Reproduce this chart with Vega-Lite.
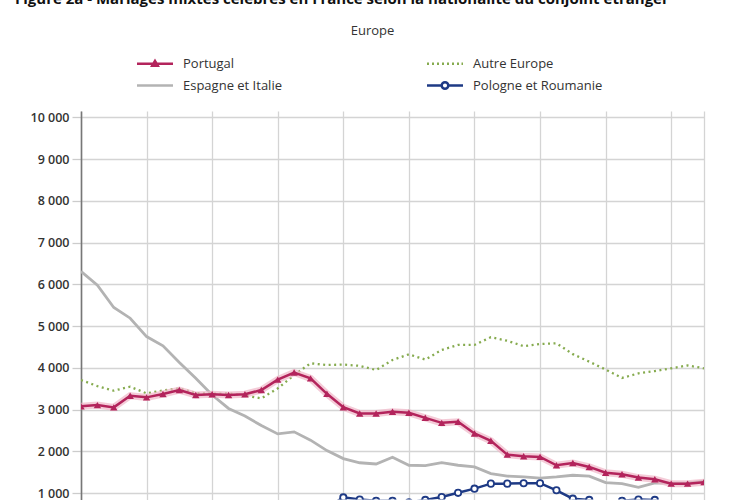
{
  "$schema": "https://vega.github.io/schema/vega-lite/v6.json",
  "width": 623,
  "height": 388.5,
  "autosize": {"type": "none"},
  "padding": {"left": 81, "top": 111, "right": 46, "bottom": 0},
  "background": "white",
  "config": {"view": {"stroke": null}, "font": "Open Sans"},
  "title": {
    "text": "Figure 2a - Mariages mixtes célébrés en France selon la nationalité du conjoint étranger",
    "anchor": "start",
    "frame": "group",
    "dx": -66,
    "offset": 18,
    "fontSize": 15,
    "fontWeight": "bold",
    "color": "#111111",
    "font": "Open Sans"
  },
  "data": {
    "values": [
      {"year": 1975, "Portugal": 3080, "Autre Europe": 3710, "Espagne et Italie": 6310, "Pologne et Roumanie": 450},
      {"year": 1976, "Portugal": 3110, "Autre Europe": 3565, "Espagne et Italie": 5980, "Pologne et Roumanie": 440},
      {"year": 1977, "Portugal": 3055, "Autre Europe": 3455, "Espagne et Italie": 5445, "Pologne et Roumanie": 430},
      {"year": 1978, "Portugal": 3335, "Autre Europe": 3550, "Espagne et Italie": 5190, "Pologne et Roumanie": 420},
      {"year": 1979, "Portugal": 3295, "Autre Europe": 3390, "Espagne et Italie": 4750, "Pologne et Roumanie": 420},
      {"year": 1980, "Portugal": 3375, "Autre Europe": 3460, "Espagne et Italie": 4530, "Pologne et Roumanie": 430},
      {"year": 1981, "Portugal": 3470, "Autre Europe": 3510, "Espagne et Italie": 4130, "Pologne et Roumanie": 440},
      {"year": 1982, "Portugal": 3350, "Autre Europe": 3400, "Espagne et Italie": 3750, "Pologne et Roumanie": 450},
      {"year": 1983, "Portugal": 3370, "Autre Europe": 3380, "Espagne et Italie": 3350, "Pologne et Roumanie": 460},
      {"year": 1984, "Portugal": 3350, "Autre Europe": 3390, "Espagne et Italie": 3030, "Pologne et Roumanie": 470},
      {"year": 1985, "Portugal": 3370, "Autre Europe": 3340, "Espagne et Italie": 2850, "Pologne et Roumanie": 490},
      {"year": 1986, "Portugal": 3470, "Autre Europe": 3270, "Espagne et Italie": 2620, "Pologne et Roumanie": 510},
      {"year": 1987, "Portugal": 3720, "Autre Europe": 3510, "Espagne et Italie": 2420, "Pologne et Roumanie": 530},
      {"year": 1988, "Portugal": 3890, "Autre Europe": 3830, "Espagne et Italie": 2470, "Pologne et Roumanie": 560},
      {"year": 1989, "Portugal": 3750, "Autre Europe": 4110, "Espagne et Italie": 2270, "Pologne et Roumanie": 600},
      {"year": 1990, "Portugal": 3380, "Autre Europe": 4070, "Espagne et Italie": 2020, "Pologne et Roumanie": 650},
      {"year": 1991, "Portugal": 3060, "Autre Europe": 4080, "Espagne et Italie": 1830, "Pologne et Roumanie": 900},
      {"year": 1992, "Portugal": 2910, "Autre Europe": 4050, "Espagne et Italie": 1730, "Pologne et Roumanie": 850},
      {"year": 1993, "Portugal": 2910, "Autre Europe": 3950, "Espagne et Italie": 1700, "Pologne et Roumanie": 820},
      {"year": 1994, "Portugal": 2950, "Autre Europe": 4190, "Espagne et Italie": 1860, "Pologne et Roumanie": 820},
      {"year": 1995, "Portugal": 2925, "Autre Europe": 4325, "Espagne et Italie": 1670, "Pologne et Roumanie": 780},
      {"year": 1996, "Portugal": 2805, "Autre Europe": 4200, "Espagne et Italie": 1660, "Pologne et Roumanie": 840},
      {"year": 1997, "Portugal": 2685, "Autre Europe": 4430, "Espagne et Italie": 1730, "Pologne et Roumanie": 910},
      {"year": 1998, "Portugal": 2710, "Autre Europe": 4550, "Espagne et Italie": 1670, "Pologne et Roumanie": 1010},
      {"year": 1999, "Portugal": 2430, "Autre Europe": 4550, "Espagne et Italie": 1630, "Pologne et Roumanie": 1110},
      {"year": 2000, "Portugal": 2255, "Autre Europe": 4735, "Espagne et Italie": 1470, "Pologne et Roumanie": 1230},
      {"year": 2001, "Portugal": 1925, "Autre Europe": 4650, "Espagne et Italie": 1410, "Pologne et Roumanie": 1230},
      {"year": 2002, "Portugal": 1885, "Autre Europe": 4520, "Espagne et Italie": 1390, "Pologne et Roumanie": 1240},
      {"year": 2003, "Portugal": 1870, "Autre Europe": 4570, "Espagne et Italie": 1360, "Pologne et Roumanie": 1240},
      {"year": 2004, "Portugal": 1670, "Autre Europe": 4590, "Espagne et Italie": 1390, "Pologne et Roumanie": 1070},
      {"year": 2005, "Portugal": 1725, "Autre Europe": 4330, "Espagne et Italie": 1430, "Pologne et Roumanie": 870},
      {"year": 2006, "Portugal": 1630, "Autre Europe": 4150, "Espagne et Italie": 1410, "Pologne et Roumanie": 840},
      {"year": 2007, "Portugal": 1490, "Autre Europe": 3960, "Espagne et Italie": 1255, "Pologne et Roumanie": 720},
      {"year": 2008, "Portugal": 1455, "Autre Europe": 3760, "Espagne et Italie": 1230, "Pologne et Roumanie": 820},
      {"year": 2009, "Portugal": 1375, "Autre Europe": 3870, "Espagne et Italie": 1140, "Pologne et Roumanie": 850},
      {"year": 2010, "Portugal": 1335, "Autre Europe": 3925, "Espagne et Italie": 1250, "Pologne et Roumanie": 840},
      {"year": 2011, "Portugal": 1230, "Autre Europe": 3990, "Espagne et Italie": 1240, "Pologne et Roumanie": 700},
      {"year": 2012, "Portugal": 1230, "Autre Europe": 4060, "Espagne et Italie": 1250, "Pologne et Roumanie": 700},
      {"year": 2013, "Portugal": 1265, "Autre Europe": 3990, "Espagne et Italie": 1290, "Pologne et Roumanie": 700}
    ]
  },
  "transform": [
    {"fold": ["Portugal", "Autre Europe", "Espagne et Italie", "Pologne et Roumanie"], "as": ["series", "value"]}
  ],
  "encoding": {
    "x": {
      "field": "year",
      "type": "quantitative",
      "scale": {"domain": [1975, 2013], "nice": false, "zero": false},
      "axis": {
        "values": [1975, 1979, 1983, 1987, 1991, 1995, 1999, 2003, 2007, 2011, 2013],
        "labels": false,
        "ticks": false,
        "domain": false,
        "title": null,
        "grid": true,
        "gridColor": "#d4d4d4",
        "gridWidth": 1.3
      }
    },
    "y": {
      "field": "value",
      "type": "quantitative",
      "scale": {"domain": [850, 10150], "nice": false, "zero": false},
      "axis": {
        "values": [1000, 2000, 3000, 4000, 5000, 6000, 7000, 8000, 9000, 10000],
        "labelExpr": "replace(format(datum.value, ','), ',', ' ')",
        "title": null,
        "grid": true,
        "gridColor": "#d4d4d4",
        "gridWidth": 1.3,
        "domainColor": "#777777",
        "domainWidth": 1.6,
        "tickColor": "#cccccc",
        "tickSize": 9,
        "tickWidth": 1.3,
        "labelFontSize": 12.5,
        "labelFontWeight": 600,
        "labelColor": "#333333",
        "labelPadding": 3,
        "labelFont": "Open Sans"
      }
    }
  },
  "layer": [
    {
      "transform": [{"filter": "datum.series === 'Espagne et Italie'"}],
      "mark": {"type": "line", "strokeWidth": 2.8, "color": "#b3b3b3", "clip": true}
    },
    {
      "transform": [{"filter": "datum.series === 'Autre Europe'"}],
      "mark": {"type": "line", "strokeWidth": 2.3, "strokeDash": [2, 3.5], "color": "#86ab4f", "clip": true}
    },
    {
      "transform": [{"filter": "datum.series === 'Pologne et Roumanie'"}],
      "mark": {"type": "line", "strokeWidth": 2.5, "color": "#1e3a85", "clip": true}
    },
    {
      "transform": [{"filter": "datum.series === 'Pologne et Roumanie'"}],
      "mark": {"type": "point", "shape": "circle", "filled": true, "fill": "white", "stroke": "#1e3a85", "strokeWidth": 1.8, "size": 40, "opacity": 1, "clip": true}
    },
    {
      "transform": [{"filter": "datum.series === 'Portugal'"}],
      "mark": {"type": "line", "strokeWidth": 7, "color": "#efb6c8", "opacity": 0.7, "clip": true}
    },
    {
      "transform": [{"filter": "datum.series === 'Portugal'"}],
      "mark": {"type": "line", "strokeWidth": 2.5, "color": "#b3245c", "clip": true}
    },
    {
      "transform": [{"filter": "datum.series === 'Portugal'"}],
      "mark": {"type": "point", "shape": "triangle-up", "filled": true, "color": "#b3245c", "size": 55, "opacity": 1, "clip": true}
    },
    {
      "transform": [{"filter": "datum.year === 1975"}],
      "mark": {"type": "point", "filled": false, "opacity": 0},
      "encoding": {
        "color": {
          "field": "series",
          "type": "nominal",
          "scale": {
            "domain": ["Portugal", "Espagne et Italie", "Autre Europe", "Pologne et Roumanie"],
            "range": ["#b3245c", "#b3b3b3", "#86ab4f", "#1e3a85"]
          },
          "legend": {
            "orient": "none",
            "legendX": 62.5,
            "legendY": -86,
            "columns": 2,
            "title": "Europe",
            "titleAnchor": "middle",
            "titleFontSize": 13,
            "titleFontWeight": "normal",
            "titleColor": "#333333",
            "titleFont": "Open Sans",
            "titlePadding": 14,
            "labelFontSize": 13,
            "labelColor": "#333333",
            "labelFont": "Open Sans",
            "labelOffset": 16.5,
            "labelLimit": 300,
            "symbolSize": 400,
            "symbolStrokeWidth": 2.5,
            "symbolOpacity": 1,
            "columnPadding": 139,
            "rowPadding": 3,
            "padding": 0,
            "encode": {
              "symbols": {
                "update": {
                  "stroke": {"scale": "color", "field": "value"},
                  "opacity": {"value": 1},
                  "strokeWidth": {"value": 2.5}
                }
              }
            }
          }
        },
        "shape": {
          "field": "series",
          "type": "nominal",
          "scale": {
            "domain": ["Portugal", "Espagne et Italie", "Autre Europe", "Pologne et Roumanie"],
            "range": [
              "M-1.8,0L1.8,0M-0.28,0.2L0,-0.28L0.28,0.2Z",
              "M-1.8,0L1.8,0",
              "M-1.8,0L-1.6,0M-1.3,0L-1.1,0M-0.8,0L-0.6,0M-0.3,0L-0.1,0M0.2,0L0.4,0M0.7,0L0.9,0M1.2,0L1.4,0M1.65,0L1.8,0",
              "M-1.8,0L-0.33,0M0.33,0L1.8,0M0.33,0A0.33,0.33,0,1,1,-0.33,0A0.33,0.33,0,1,1,0.33,0Z"
            ]
          },
          "legend": {
            "orient": "none",
            "legendX": 62.5,
            "legendY": -86,
            "columns": 2,
            "title": "Europe",
            "titleAnchor": "middle",
            "titleFontSize": 13,
            "titleFontWeight": "normal",
            "titleColor": "#333333",
            "titleFont": "Open Sans",
            "titlePadding": 14,
            "labelFontSize": 13,
            "labelColor": "#333333",
            "labelFont": "Open Sans",
            "labelOffset": 16.5,
            "labelLimit": 300,
            "symbolSize": 400,
            "symbolStrokeWidth": 2.5,
            "symbolOpacity": 1,
            "columnPadding": 139,
            "rowPadding": 3,
            "padding": 0
          }
        }
      }
    }
  ]
}
